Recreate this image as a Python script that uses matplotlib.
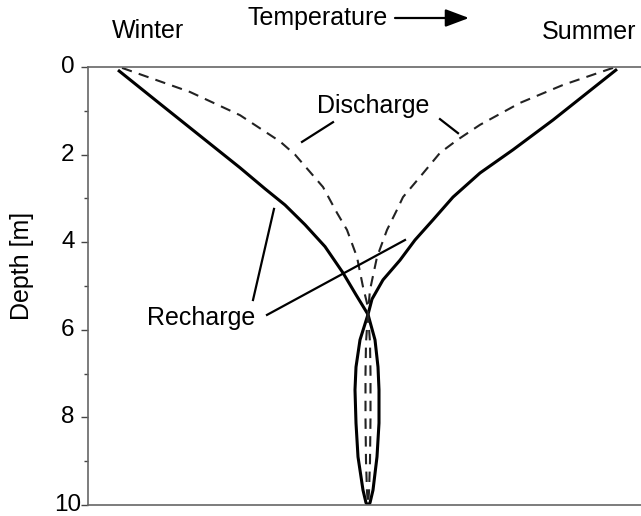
import matplotlib
matplotlib.use("Agg")
import matplotlib.pyplot as plt

plt.rcParams['font.family'] = ['Liberation Sans', 'DejaVu Sans']

# temperature given as offset from the deep (constant) value, arbitrary units
# recharge profiles (solid)
rech_winter_depth = [0.07, 0.84, 1.57, 2.3, 2.78, 3.15, 3.6, 4.1, 4.7, 5.2, 5.65]
rech_winter_temp = [-250, -208, -168, -128, -103, -83, -63, -43, -25, -12, 0]
rech_summer_depth = [0.05, 0.63, 1.21, 1.89, 2.42, 2.97, 3.49, 3.95, 4.41, 4.86, 5.3, 5.65]
rech_summer_temp = [249, 217, 185, 145, 112, 85, 65, 47, 32, 15, 4, 0]
rech_deep_depth = [5.65, 6.23, 6.85, 7.37, 8.13, 8.9, 9.66, 9.95, 10.0]
rech_deep_left = [0, -8, -12, -13, -12, -10, -5, -2, 0]
rech_deep_right = [0, 7, 10, 11, 11, 9, 5, 2, 0]

# discharge profiles (dashed)
dis_winter_depth = [0.02, 0.57, 1.10, 1.70, 2.0, 2.74, 3.33, 3.72, 4.34, 5.02, 5.39, 5.6]
dis_winter_temp = [-246, -178, -128, -88, -73, -45, -31, -21, -11, -5, -1, 0]
dis_summer_depth = [0.02, 0.41, 0.82, 1.32, 1.67, 1.96, 2.51, 2.97, 3.26, 3.72, 4.34, 5.09, 5.6]
dis_summer_temp = [245, 195, 152, 112, 89, 72, 52, 35, 29, 19, 9, 2, 0]
dis_deep_depth = [5.6, 6.3, 7.0, 8.0, 9.0, 9.7, 10.0]
dis_deep_left = [0, -2, -2.5, -2.5, -2, -1, 0]
dis_deep_right = [0, 2, 2.5, 2.5, 2, 1, 0]

fig = plt.figure(figsize=(6.41, 5.16), dpi=100)
ax = fig.add_axes([88 / 641, 1 - 505 / 516, 1 - 88 / 641, (505 - 67) / 516])

solid = dict(color='black', lw=2.2, solid_capstyle='butt', solid_joinstyle='round')
dashed = dict(color='#222222', lw=1.5, linestyle=(0, (5, 3.5)))

ax.plot(rech_winter_temp, rech_winter_depth, **solid)
ax.plot(rech_summer_temp, rech_summer_depth, **solid)
ax.plot(rech_deep_left, rech_deep_depth, **solid)
ax.plot(rech_deep_right, rech_deep_depth, **solid)

ax.plot(dis_winter_temp, dis_winter_depth, **dashed)
ax.plot(dis_summer_temp, dis_summer_depth, **dashed)
ax.plot(dis_deep_left, dis_deep_depth, **dashed)
ax.plot(dis_deep_right, dis_deep_depth, **dashed)

# labels with leader lines
ax.text(-51, 1.05, "Discharge", fontsize=18, va='baseline')
ax.plot([-35, -66], [1.26, 1.71], color='black', lw=1.6)
ax.plot([72, 90], [1.19, 1.51], color='black', lw=1.6)
ax.text(-221, 5.89, "Recharge", fontsize=18, va='baseline')
ax.plot([-115, -94], [5.32, 3.24], color='black', lw=1.6)
ax.plot([-101, 37], [5.66, 3.95], color='black', lw=1.6)

ax.set_xlim(-280, 273)
ax.set_ylim(10, 0)
ax.set_xticks([])
ax.set_yticks(range(0, 11, 2))
ax.set_yticks(range(1, 10, 2), minor=True)
ax.tick_params(axis='y', which='major', length=5, width=1, color='#444444',
               labelsize=17.5, pad=9.4)
ax.tick_params(axis='y', which='minor', length=3, width=1, color='#444444')
for lab in ax.get_yticklabels():
    lab.set_ha('center')
    lab.set_va('center')

ax.spines['right'].set_visible(False)
for s in ('left', 'top', 'bottom'):
    ax.spines[s].set_color('#666666')
    ax.spines[s].set_linewidth(1.2)

fig.text(22 / 641, 1 - 266 / 516, "Depth [m]", fontsize=18, rotation=90,
         ha='center', va='center')
fig.text(148 / 641, 1 - 38 / 516, "Winter", fontsize=18, ha='center', va='baseline')
fig.text(542 / 641, 1 - 39 / 516, "Summer", fontsize=18, ha='left', va='baseline')
fig.text(247 / 641, 1 - 25 / 516, "Temperature", fontsize=18, ha='left', va='baseline')
fig.add_artist(matplotlib.patches.FancyArrowPatch(
    (395 / 641, 1 - 18 / 516), (469 / 641, 1 - 18 / 516),
    transform=fig.transFigure, arrowstyle='-|>,head_length=1.2,head_width=0.45',
    mutation_scale=12, color='black', lw=1.6, shrinkA=0, shrinkB=0))

fig.savefig("out.png", dpi=100)
